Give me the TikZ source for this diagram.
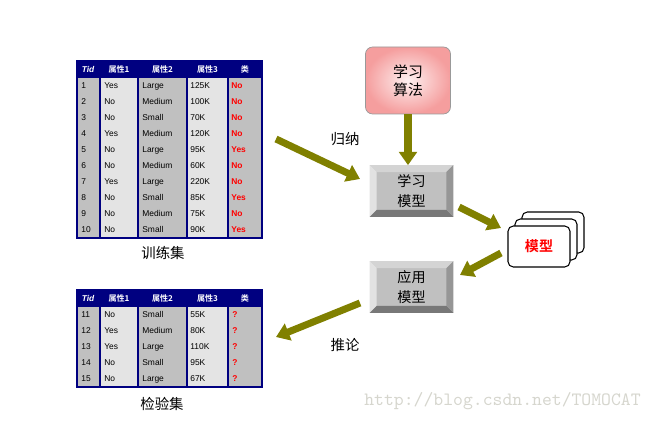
\documentclass[tikz,border=0pt]{standalone}
\usepackage{fontspec}
\setmainfont{Liberation Sans}
\newfontfamily\cjk{Noto Sans CJK SC}[BoldFont={Noto Sans CJK SC Bold}]
\usetikzlibrary{arrows.meta,positioning,calc}
\definecolor{navy}{RGB}{0,0,128}
\definecolor{cellgray}{RGB}{192,192,192}
\definecolor{celllight}{RGB}{228,228,228}
\definecolor{arrowolive}{RGB}{128,128,0}
\definecolor{boxpink}{RGB}{245,158,158}
\definecolor{markgray}{RGB}{214,214,206}
\definecolor{bevtop}{RGB}{212,212,212}
\definecolor{bevleft}{RGB}{226,226,226}
\definecolor{bevbottom}{RGB}{120,120,120}
\definecolor{bevright}{RGB}{150,150,150}
\newcommand{\bevelof}[1]{%
	\fill[bevtop] (#1.north west) -- (#1.north east) -- ($(#1.north east)+(-7,7)$) -- ($(#1.north west)+(7,7)$) -- cycle;
	\fill[bevleft] (#1.north west) -- ($(#1.north west)+(7,7)$) -- ($(#1.south west)+(7,-7)$) -- (#1.south west) -- cycle;
	\fill[bevbottom] (#1.south west) -- ($(#1.south west)+(7,-7)$) -- ($(#1.south east)+(-7,-7)$) -- (#1.south east) -- cycle;
	\fill[bevright] (#1.north east) -- (#1.south east) -- ($(#1.south east)+(-7,-7)$) -- ($(#1.north east)+(-7,7)$) -- cycle;
}
\begin{document}
\begin{tikzpicture}[x=0.02cm, y=-0.02cm,
		cell/.style={anchor=west, inner sep=0pt, text height=3.4pt, text depth=1pt, font=\fontsize{4.8}{5}\selectfont},
		cls/.style={cell, text=red, font=\fontsize{4.8}{5}\selectfont\bfseries},
		head/.style={inner sep=0pt, text=white, font=\cjk\fontsize{4.6}{5}\selectfont\bfseries},
		caption/.style={inner sep=0pt, font=\cjk\fontsize{8.2}{10}\selectfont},
		bevelbox/.style={fill=cellgray, minimum width=1.66cm, minimum height=1.02cm, inner sep=0pt, align=center, font=\cjk\fontsize{8}{11}\selectfont},
		card/.style={draw=black, fill=white, rounded corners=3pt, minimum width=1.24cm, minimum height=0.82cm, line width=0.6pt},
		flow/.style={draw=arrowolive, line width=4pt, -{Triangle[width=10pt,length=7.5pt]}}]
		\useasboundingbox (0,0) rectangle (655,421);
		\foreach \t/\n in {61/10, 290/5} {
			\pgfmathsetmacro\bot{\t+17+16*\n}
			\fill[cellgray] (77,\t) rectangle (100,\bot);
			\fill[celllight] (100,\t) rectangle (138,\bot);
			\fill[cellgray] (138,\t) rectangle (187,\bot);
			\fill[celllight] (187,\t) rectangle (228,\bot);
			\fill[cellgray] (228,\t) rectangle (262,\bot);
			\fill[navy] (77,\t) rectangle (262,{\t+17});
			\foreach \x in {100,138,187,228}
				\draw[navy, line width=0.7pt] (\x,\t) -- (\x,\bot);
			\draw[navy, line width=0.9pt] (77,\t) rectangle (262,\bot);
			\node[head, font=\fontsize{4.8}{5}\selectfont\bfseries\itshape] (h\t-0) at (88,{\t+8.5}) {Tid};
			\node[head] (h\t-1) at (119,{\t+8.5}) {属性1};
			\node[head] (h\t-2) at (162.5,{\t+8.5}) {属性2};
			\node[head] (h\t-3) at (207.5,{\t+8.5}) {属性3};
			\node[head] (h\t-4) at (245,{\t+8.5}) {类};
		}
		\foreach \id/\va/\vb/\vc/\vd [count=\k] in {1/Yes/Large/125K/No, 2/No/Medium/100K/No, 3/No/Small/70K/No, 4/Yes/Medium/120K/No, 5/No/Large/95K/Yes, 6/No/Medium/60K/No, 7/Yes/Large/220K/No, 8/No/Small/85K/Yes, 9/No/Medium/75K/No, 10/No/Small/90K/Yes} {
			\pgfmathsetmacro\y{78+16*\k-8}
			\node[cell] (tr\k-0) at (81,\y) {\id};
			\node[cell] (tr\k-1) at (104,\y) {\va};
			\node[cell] (tr\k-2) at (142,\y) {\vb};
			\node[cell] (tr\k-3) at (190,\y) {\vc};
			\node[cls] (tr\k-4) at (231,\y) {\vd};
		}
		\foreach \id/\va/\vb/\vc [count=\k] in {11/No/Small/55K, 12/Yes/Medium/80K, 13/Yes/Large/110K, 14/No/Small/95K, 15/No/Large/67K} {
			\pgfmathsetmacro\y{307+16*\k-8}
			\node[cell] (te\k-0) at (81,\y) {\id};
			\node[cell] (te\k-1) at (104,\y) {\va};
			\node[cell] (te\k-2) at (142,\y) {\vb};
			\node[cell] (te\k-3) at (190,\y) {\vc};
			\node[cls] (te\k-4) at (232,\y) {?};
		}
		\node[caption] (trainset) at (163,253) {训练集};
		\node[caption] (testset) at (162,404) {检验集};

		\node[draw=gray!80, rounded corners=4pt, inner color=boxpink!15!white, outer color=boxpink, minimum width=1.7cm, minimum height=1.34cm, align=center, font=\cjk\fontsize{8.5}{10.5}\selectfont] (algo) at (408,80.5) {学习\\算法};
		\node[bevelbox] (learnmodel) at (411.5,191) {};
		\bevelof{learnmodel}
		\node[align=center, font=\cjk\fontsize{8}{11}\selectfont] (learntext) at (learnmodel) {学习\\模型};
		\node[bevelbox] (applymodel) at (411.5,287) {};
		\bevelof{applymodel}
		\node[align=center, font=\cjk\fontsize{8}{11}\selectfont] (applytext) at (applymodel) {应用\\模型};

		\node[card] (card3) at (553,232.5) {};
		\node[card] (card2) at (546,239.5) {};
		\node[card, text=red, font=\cjk\fontsize{8}{10}\selectfont\bfseries] (model) at (539,246.5) {模型};

		\coordinate (induceS) at (276,139);
		\coordinate (induceE) at (360,179);
		\coordinate (buildS) at (459,207);
		\coordinate (buildE) at (501,228);
		\coordinate (useS) at (501,253);
		\coordinate (useE) at (460,275);
		\coordinate (inferS) at (360,303);
		\coordinate (inferE) at (276,337);
		\draw[flow] (algo.south) -- (algo.south |- learnmodel.north);
		\draw[flow] (induceS) -- (induceE);
		\draw[flow] (buildS) -- (buildE);
		\draw[flow] (useS) -- (useE);
		\draw[flow] (inferS) -- (inferE);
		\node[caption] (induce) at (345,139) {归纳};
		\node[caption] (infer) at (345,345) {推论};

		\node[anchor=west, inner sep=0pt, text=markgray, font=\ttfamily\fontsize{10.7}{11}\selectfont] (mark) at (364,401) {http://blog.csdn.net/TOMOCAT};
\end{tikzpicture}
\end{document}
